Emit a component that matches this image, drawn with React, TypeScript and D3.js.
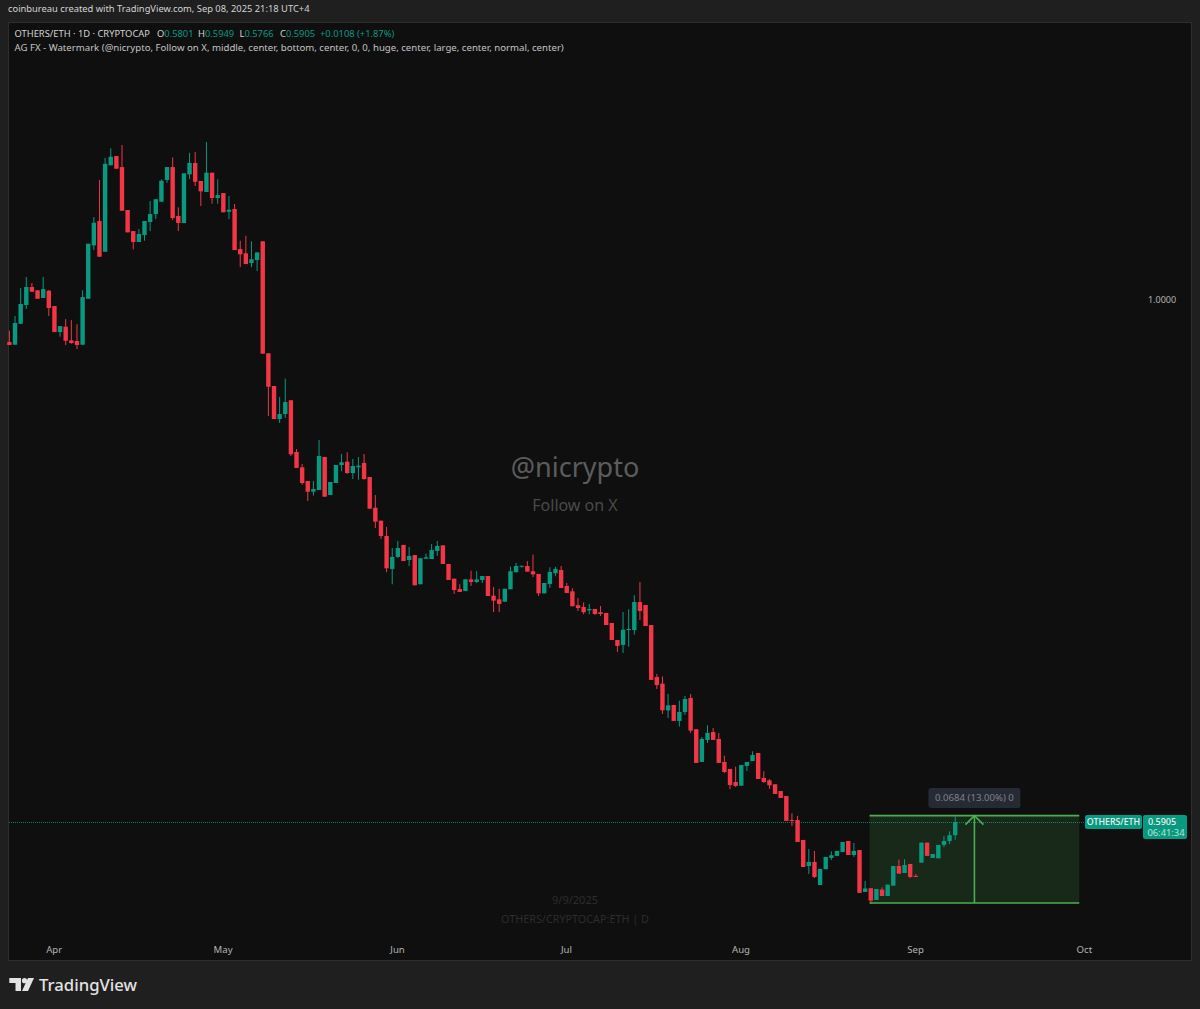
import React, { useEffect, useRef } from 'react';
import * as d3 from 'd3';

const opens = [
  0.9663, 0.9642, 0.9806, 0.9953, 1.0094, 1.0068, 1.0008, 1.0065, 0.9945, 0.9741, 0.9783, 0.9676, 0.9671,
  0.9642, 1.0002, 1.0420, 1.0611, 1.0370, 1.1047, 1.1120, 1.1033, 1.0697, 1.0532, 1.0446, 1.0501, 1.0603,
  1.0665, 1.0762, 1.0932, 1.1033, 1.0650, 1.0595, 1.0976, 1.1065, 1.0924, 1.0838, 1.0989, 1.0791, 1.0830,
  1.0683, 1.0705, 1.0391, 1.0358, 1.0282, 1.0305, 1.0452, 0.9575, 0.9319, 0.9060, 0.9099, 0.9207, 0.8802,
  0.8682, 0.8575, 0.8491, 0.8504, 0.8763, 0.8465, 0.8559, 0.8700, 0.8726, 0.8637, 0.8682, 0.8716, 0.8606,
  0.8366, 0.8264, 0.8144, 0.7886, 0.7980, 0.8074, 0.7956, 0.7995, 0.7766, 0.7966, 0.7964, 0.8027, 0.8071,
  0.7925, 0.7810, 0.7729, 0.7713, 0.7804, 0.7784, 0.7800, 0.7831, 0.7677, 0.7648, 0.7630, 0.7727, 0.7860,
  0.7904, 0.7909, 0.7868, 0.7847, 0.7695, 0.7768, 0.7852, 0.7878, 0.7753, 0.7711, 0.7602, 0.7588, 0.7562,
  0.7573, 0.7547, 0.7541, 0.7463, 0.7330, 0.7291, 0.7408, 0.7408, 0.7627, 0.7604, 0.7447, 0.7040, 0.6988,
  0.6779, 0.6821, 0.6696, 0.6766, 0.6876, 0.6631, 0.6375, 0.6547, 0.6609, 0.6555, 0.6375, 0.6320, 0.6218,
  0.6189, 0.6343, 0.6382, 0.6445, 0.6249, 0.6231, 0.6200, 0.6147, 0.6108, 0.5920, 0.5920, 0.5764, 0.5560,
  0.5592, 0.5411, 0.5535, 0.5623, 0.5639, 0.5670, 0.5756, 0.5646, 0.5685, 0.5357, 0.5386, 0.5294, 0.5375,
  0.5325, 0.5406, 0.5560, 0.5505, 0.5576, 0.5482, 0.5586, 0.5743, 0.5623, 0.5620, 0.5725, 0.5756, 0.5801,
];

const highs = [
  0.9752, 0.9867, 1.0086, 1.0172, 1.0125, 1.0070, 1.0172, 1.0070, 0.9945, 0.9788, 0.9843, 0.9835, 0.9802,
  1.0068, 1.0433, 1.0642, 1.0932, 1.1106, 1.1180, 1.1120, 1.1206, 1.0697, 1.0532, 1.0548, 1.0611, 1.0767,
  1.0783, 1.0937, 1.1033, 1.1109, 1.0718, 1.0984, 1.1145, 1.1151, 1.0924, 1.1229, 1.0989, 1.0937, 1.0830,
  1.0806, 1.0744, 1.0456, 1.0495, 1.0452, 1.0365, 1.0452, 0.9575, 0.9319, 0.9232, 0.9376, 0.9207, 0.8825,
  0.8708, 0.8575, 0.8575, 0.8896, 0.8763, 0.8567, 0.8700, 0.8786, 0.8800, 0.8747, 0.8763, 0.8786, 0.8606,
  0.8465, 0.8264, 0.8215, 0.8050, 0.8105, 0.8074, 0.8058, 0.7995, 0.7970, 0.8006, 0.8081, 0.8105, 0.8071,
  0.7925, 0.7810, 0.7766, 0.7805, 0.7872, 0.7870, 0.7831, 0.7831, 0.7745, 0.7731, 0.7731, 0.7904, 0.7933,
  0.7911, 0.7948, 0.7998, 0.7847, 0.7776, 0.7899, 0.7901, 0.7909, 0.7776, 0.7735, 0.7659, 0.7625, 0.7612,
  0.7573, 0.7596, 0.7541, 0.7463, 0.7330, 0.7549, 0.7570, 0.7680, 0.7784, 0.7604, 0.7447, 0.7064, 0.7044,
  0.6907, 0.6821, 0.6854, 0.6891, 0.6907, 0.6631, 0.6570, 0.6662, 0.6641, 0.6602, 0.6424, 0.6320, 0.6338,
  0.6351, 0.6375, 0.6458, 0.6445, 0.6302, 0.6241, 0.6200, 0.6147, 0.6108, 0.5973, 0.5952, 0.5764, 0.5693,
  0.5678, 0.5537, 0.5631, 0.5675, 0.5678, 0.5748, 0.5756, 0.5740, 0.5685, 0.5443, 0.5386, 0.5380, 0.5393,
  0.5414, 0.5560, 0.5610, 0.5613, 0.5576, 0.5498, 0.5743, 0.5743, 0.5654, 0.5725, 0.5795, 0.5832, 0.5949,
];

const lows = [
  0.9640, 0.9642, 0.9806, 0.9922, 1.0057, 1.0002, 1.0008, 0.9867, 0.9741, 0.9705, 0.9640, 0.9650, 0.9608,
  0.9642, 1.0002, 1.0383, 1.0331, 1.0370, 1.1047, 1.1020, 1.0691, 1.0522, 1.0389, 1.0446, 1.0456, 1.0532,
  1.0626, 1.0762, 1.0910, 1.0618, 1.0532, 1.0595, 1.0939, 1.0885, 1.0728, 1.0838, 1.0746, 1.0746, 1.0679,
  1.0626, 1.0383, 1.0250, 1.0274, 1.0248, 1.0219, 0.9572, 0.9084, 0.9060, 0.9029, 0.9068, 0.8771, 0.8677,
  0.8546, 0.8418, 0.8460, 0.8504, 0.8452, 0.8465, 0.8559, 0.8651, 0.8630, 0.8590, 0.8585, 0.8585, 0.8358,
  0.8207, 0.8121, 0.7860, 0.7766, 0.7972, 0.7948, 0.7909, 0.7758, 0.7766, 0.7966, 0.7964, 0.7988, 0.7925,
  0.7800, 0.7690, 0.7706, 0.7713, 0.7753, 0.7776, 0.7776, 0.7674, 0.7549, 0.7549, 0.7630, 0.7727, 0.7860,
  0.7896, 0.7865, 0.7823, 0.7674, 0.7695, 0.7737, 0.7829, 0.7737, 0.7698, 0.7594, 0.7557, 0.7531, 0.7531,
  0.7526, 0.7518, 0.7447, 0.7330, 0.7236, 0.7228, 0.7277, 0.7371, 0.7486, 0.7439, 0.7017, 0.6946, 0.6750,
  0.6719, 0.6696, 0.6651, 0.6743, 0.6602, 0.6367, 0.6375, 0.6523, 0.6547, 0.6367, 0.6288, 0.6161, 0.6179,
  0.6189, 0.6304, 0.6382, 0.6241, 0.6210, 0.6163, 0.6124, 0.6093, 0.5913, 0.5873, 0.5748, 0.5552, 0.5498,
  0.5466, 0.5411, 0.5535, 0.5607, 0.5639, 0.5670, 0.5646, 0.5631, 0.5349, 0.5357, 0.5263, 0.5294, 0.5325,
  0.5325, 0.5406, 0.5500, 0.5505, 0.5466, 0.5477, 0.5586, 0.5639, 0.5623, 0.5620, 0.5707, 0.5732, 0.5766,
];

const closes = [
  0.9640, 0.9812, 0.9961, 1.0094, 1.0057, 1.0002, 1.0078, 0.9929, 0.9741, 0.9788, 0.9673, 0.9655, 0.9640,
  1.0015, 1.0433, 1.0597, 1.0331, 1.1059, 1.1114, 1.1020, 1.0691, 1.0522, 1.0446, 1.0509, 1.0611, 1.0665,
  1.0781, 1.0926, 1.1033, 1.0634, 1.0595, 1.0984, 1.1065, 1.0918, 1.0843, 1.0989, 1.0791, 1.0814, 1.0679,
  1.0699, 1.0383, 1.0350, 1.0274, 1.0311, 1.0365, 0.9572, 0.9313, 0.9060, 0.9099, 0.9193, 0.8784, 0.8677,
  0.8559, 0.8491, 0.8512, 0.8771, 0.8452, 0.8567, 0.8700, 0.8721, 0.8637, 0.8692, 0.8695, 0.8590, 0.8358,
  0.8256, 0.8144, 0.7891, 0.7980, 0.8050, 0.7948, 0.7988, 0.7758, 0.7970, 0.7977, 0.8034, 0.8066, 0.7925,
  0.7800, 0.7721, 0.7706, 0.7805, 0.7784, 0.7804, 0.7831, 0.7674, 0.7638, 0.7612, 0.7731, 0.7868, 0.7909,
  0.7911, 0.7865, 0.7844, 0.7695, 0.7776, 0.7862, 0.7886, 0.7737, 0.7698, 0.7594, 0.7580, 0.7547, 0.7573,
  0.7533, 0.7533, 0.7447, 0.7330, 0.7283, 0.7410, 0.7416, 0.7627, 0.7557, 0.7439, 0.7017, 0.6977, 0.6779,
  0.6818, 0.6696, 0.6766, 0.6868, 0.6620, 0.6367, 0.6555, 0.6602, 0.6547, 0.6367, 0.6296, 0.6194, 0.6187,
  0.6351, 0.6375, 0.6429, 0.6241, 0.6218, 0.6192, 0.6124, 0.6093, 0.5913, 0.5915, 0.5748, 0.5552, 0.5592,
  0.5474, 0.5537, 0.5631, 0.5644, 0.5678, 0.5748, 0.5646, 0.5678, 0.5349, 0.5384, 0.5289, 0.5380, 0.5325,
  0.5414, 0.5560, 0.5500, 0.5568, 0.5474, 0.5477, 0.5743, 0.5639, 0.5654, 0.5725, 0.5756, 0.5801, 0.5905,
];

const firstDay = new Date(Date.UTC(2025, 2, 24));
const lastAxisDay = new Date(Date.UTC(2025, 9, 1));
const lastPrice = 0.5905;
const rangeTop = 0.5954;
const rangeBottom = 0.5270;
const rangeStart = new Date(Date.UTC(2025, 7, 23, 18));
const rangeEnd = new Date(Date.UTC(2025, 8, 30));
const priceTicks = [1.0];

const GREEN = '#089981';
const RED = '#F23645';
const FONT = '"Noto Sans", sans-serif';

const App: React.FC = () => {
  const svgRef = useRef<SVGSVGElement>(null);

  useEffect(() => {
    if (!svgRef.current) return;

    // Clear previous content
    d3.select(svgRef.current).selectAll('*').remove();

    const svg = d3.select(svgRef.current);

    const x = d3.scaleUtc().domain([firstDay, lastAxisDay]).range([9.6, 1084.9]);
    const y = d3.scaleLinear().domain([0, 1]).range([1576, 299]);

    // Page and pane
    svg.append('rect').attr('width', 1200).attr('height', 1009).attr('fill', '#1f1f1f');
    svg.append('rect')
      .attr('x', 8.5).attr('y', 22.5).attr('width', 1183).attr('height', 938)
      .attr('fill', '#0f0f0f').attr('stroke', '#2e2e2e');

    svg.append('text')
      .attr('x', 8).attr('y', 12)
      .attr('font-family', FONT).attr('font-size', 9.35).attr('fill', '#d4d4d4')
      .text('coinbureau created with TradingView.com, Sep 08, 2025 21:18 UTC+4');

    // Legend rows
    const legend = svg.append('text')
      .attr('x', 14.5).attr('y', 37)
      .attr('font-family', FONT).attr('font-size', 9.35).attr('fill', '#d4d4d4');
    legend.append('tspan').text('OTHERS/ETH · 1D · CRYPTOCAP');
    const last = opens.length - 1;
    const legendParts: [number, string, string][] = [
      [157, 'O', opens[last].toFixed(4)],
      [198, 'H', highs[last].toFixed(4)],
      [239.5, 'L', lows[last].toFixed(4)],
      [280, 'C', closes[last].toFixed(4)],
    ];
    legendParts.forEach(([px, key, val]) => {
      legend.append('tspan').attr('x', px).text(key);
      legend.append('tspan').attr('fill', GREEN).text(val);
    });
    legend.append('tspan').attr('x', 320).attr('fill', GREEN).text('+0.0108 (+1.87%)');

    svg.append('text')
      .attr('x', 14.5).attr('y', 50.5)
      .attr('font-family', FONT).attr('font-size', 9.65).attr('fill', '#c4c4c4')
      .text('AG FX - Watermark (@nicrypto, Follow on X, middle, center, bottom, center, 0, 0, huge, center, large, center, normal, center)');

    // Watermarks
    const midX = 575;
    const marks: [number, number, string, string][] = [
      [477, 27, '#5c5c5c', '@nicrypto'],
      [511, 16, '#4a4a4a', 'Follow on X'],
      [904, 11, '#2d2d2d', '9/9/2025'],
      [923, 10.8, '#2d2d2d', 'OTHERS/CRYPTOCAP:ETH | D'],
    ];
    marks.forEach(([py, size, color, label]) => {
      svg.append('text')
        .attr('x', midX).attr('y', py).attr('text-anchor', 'middle')
        .attr('font-family', FONT).attr('font-size', size).attr('fill', color)
        .text(label);
    });

    // Last price line
    const priceY = Math.round(y(lastPrice)) + 0.5;
    svg.append('line')
      .attr('x1', 9).attr('x2', 1085)
      .attr('y1', priceY).attr('y2', priceY)
      .attr('stroke', GREEN).attr('stroke-opacity', 0.8).attr('stroke-dasharray', '1 1');

    // Long range measure
    const rx0 = x(rangeStart);
    const rx1 = x(rangeEnd);
    const rMid = (rx0 + rx1) / 2;
    svg.append('rect')
      .attr('x', rx0).attr('y', y(rangeTop))
      .attr('width', rx1 - rx0).attr('height', y(rangeBottom) - y(rangeTop))
      .attr('fill', '#4caf50').attr('fill-opacity', 0.16);

    // Candles
    const days = opens.map((_, i) => d3.utcDay.offset(firstDay, i));
    const candles = svg.append('g')
      .selectAll('g')
      .data(days)
      .enter()
      .append('g')
      .attr('fill', (_, i) => (closes[i] >= opens[i] ? GREEN : RED))
      .attr('stroke', (_, i) => (closes[i] >= opens[i] ? GREEN : RED));

    candles.append('line')
      .attr('x1', d => x(d) - 0.2)
      .attr('x2', d => x(d) - 0.2)
      .attr('y1', (_, i) => y(highs[i]))
      .attr('y2', (_, i) => y(lows[i]));

    candles.append('rect')
      .attr('x', d => x(d) - 2.4)
      .attr('width', 4.4)
      .attr('y', (_, i) => y(Math.max(opens[i], closes[i])))
      .attr('height', (_, i) => Math.max(1, Math.abs(y(opens[i]) - y(closes[i]))))
      .attr('stroke', 'none');

    // Range borders and arrow over the candles
    [rangeTop, rangeBottom].forEach(v => {
      svg.append('line')
        .attr('x1', rx0).attr('x2', rx1).attr('y1', y(v)).attr('y2', y(v))
        .attr('stroke', '#4caf50').attr('stroke-width', 1.6);
    });
    svg.append('path')
      .attr('d', d3.line()([[rMid, y(rangeBottom)], [rMid, y(rangeTop)]]))
      .attr('stroke', '#4caf50').attr('stroke-width', 1.6).attr('fill', 'none');
    svg.append('path')
      .attr('d', d3.line()([[rMid - 9, y(rangeTop) + 9], [rMid, y(rangeTop)], [rMid + 9, y(rangeTop) + 9]]))
      .attr('stroke', '#4caf50').attr('stroke-width', 1.6).attr('fill', 'none');

    svg.append('rect')
      .attr('x', rMid - 46).attr('y', 788).attr('width', 92).attr('height', 20).attr('rx', 3)
      .attr('fill', '#262a35');
    svg.append('text')
      .attr('x', rMid).attr('y', 801).attr('text-anchor', 'middle')
      .attr('font-family', FONT).attr('font-size', 9.6).attr('fill', '#7f818a')
      .text(`${(rangeTop - rangeBottom).toFixed(4)} (13.00%) 0`);

    // Time axis
    const axis = d3.axisBottom(x)
      .ticks(d3.utcMonth.every(1)!)
      .tickFormat(d3.utcFormat('%b') as any)
      .tickSize(0);
    const axisG = svg.append('g').attr('transform', 'translate(-1,943)').call(axis);
    axisG.select('.domain').remove();
    axisG.selectAll('text')
      .attr('font-family', FONT).attr('font-size', 9.6).attr('fill', '#b4b4b4');

    // Price axis
    priceTicks.forEach(p => {
      svg.append('text')
        .attr('x', 1162).attr('y', y(p) + 3.5).attr('text-anchor', 'middle')
        .attr('font-family', FONT).attr('font-size', 9).attr('fill', '#b4b4b4')
        .text(p.toFixed(4));
    });

    // Last price labels
    const py = y(lastPrice);
    svg.append('rect')
      .attr('x', 1085).attr('y', py - 7).attr('width', 57).attr('height', 14).attr('rx', 2)
      .attr('fill', GREEN);
    svg.append('text')
      .attr('x', 1113.5).attr('y', py + 3.3).attr('text-anchor', 'middle')
      .attr('font-family', FONT).attr('font-size', 8.8).attr('font-weight', 500).attr('fill', '#f2f2f2')
      .text('OTHERS/ETH');
    svg.append('rect')
      .attr('x', 1143).attr('y', py - 7).attr('width', 44).attr('height', 24).attr('rx', 2)
      .attr('fill', GREEN);
    svg.append('text')
      .attr('x', 1162).attr('y', py + 3.3).attr('text-anchor', 'middle')
      .attr('font-family', FONT).attr('font-size', 9).attr('font-weight', 500).attr('fill', '#f2f2f2')
      .text(lastPrice.toFixed(4));
    svg.append('text')
      .attr('x', 1166).attr('y', py + 14).attr('text-anchor', 'middle')
      .attr('font-family', FONT).attr('font-size', 9.4).attr('fill', '#b9e2da')
      .text('06:41:34');

    // TradingView logo
    const logo = svg.append('g').attr('fill', '#e3e3e3');
    logo.append('path').attr('d', 'M9.3 978H21V991H15.5V983H9.3Z');
    logo.append('circle').attr('cx', 24.5).attr('cy', 980.7).attr('r', 2.6);
    logo.append('path').attr('d', 'M28 978H34L28 991H22Z');
    svg.append('text')
      .attr('x', 39).attr('y', 990.5)
      .attr('font-family', FONT).attr('font-size', 16.7).attr('font-weight', 500).attr('fill', '#e3e3e3')
      .text('TradingView');
  }, []);

  return (
    <svg
      ref={svgRef}
      width={1200}
      height={1009}
      style={{ position: 'absolute', left: 0, top: 0, display: 'block' }}
    />
  );
};

export default App;
